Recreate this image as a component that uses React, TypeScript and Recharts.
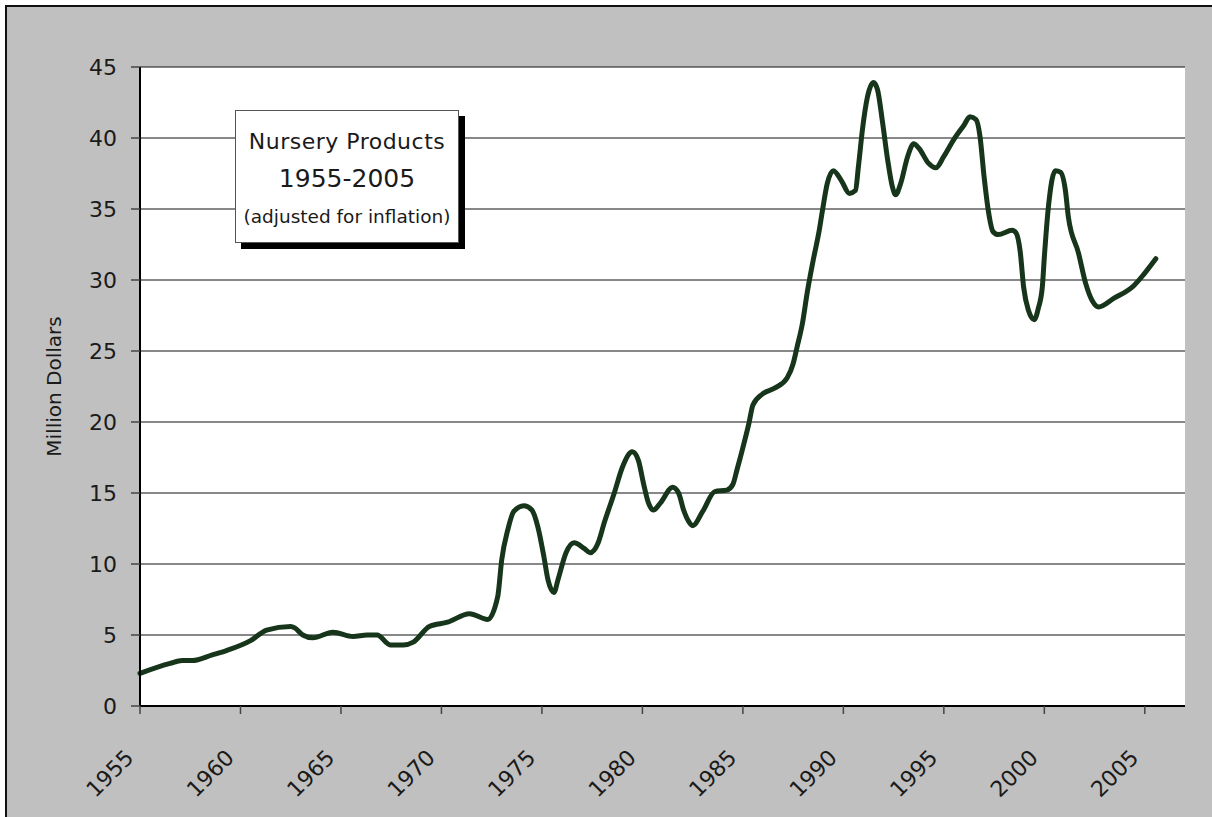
import { CartesianGrid, Line, LineChart, XAxis, YAxis } from 'recharts';

const years = [
  1955.0, 1956.5, 1957.1, 1957.6, 1958.6, 1959.3, 1960.5, 1961.3, 1962.5, 1962.7,
  1963.1, 1963.6, 1964.6, 1965.6, 1966.3, 1966.8, 1967.45, 1968.1, 1968.6, 1969.4,
  1970.3, 1971.4, 1972.3, 1972.8, 1973.0, 1973.3, 1973.6, 1974.1, 1974.5, 1974.8,
  1975.1, 1975.3, 1975.6, 1975.8, 1976.2, 1976.6, 1977.1, 1977.4, 1977.8, 1978.1,
  1978.6, 1979.0, 1979.5, 1979.8, 1980.05, 1980.3, 1980.55, 1980.9, 1981.5, 1981.8,
  1982.05, 1982.3, 1982.5, 1983.0, 1983.6, 1984.2, 1984.5, 1984.7, 1985.0, 1985.3,
  1985.5, 1986.0, 1986.6, 1987.2, 1987.5, 1987.7, 1987.97, 1988.2, 1988.5, 1988.8,
  1988.96, 1989.2, 1989.5, 1989.9, 1990.3, 1990.6, 1990.75, 1990.95, 1991.2, 1991.5,
  1991.7, 1991.95, 1992.2, 1992.45, 1992.6, 1992.85, 1993.2, 1993.5, 1993.75, 1994.25,
  1994.6, 1995.0, 1995.5, 1996.0, 1996.3, 1996.6, 1996.8, 1997.0, 1997.2, 1997.45,
  1997.7, 1998.4, 1998.6, 1998.8, 1998.97, 1999.2, 1999.5, 1999.7, 1999.9, 2000.0,
  2000.2, 2000.55, 2000.8, 2001.05, 2001.2, 2001.7, 2002.05, 2002.4, 2002.7, 2003.45,
  2004.45, 2004.95, 2005.55,
];

const values = [
  2.3, 3.0, 3.2, 3.2, 3.6, 3.9, 4.6, 5.35, 5.6, 5.5,
  5.0, 4.8, 5.2, 4.9, 5.0, 5.0, 4.3, 4.3, 4.5, 5.6,
  5.9, 6.5, 6.1, 7.7, 10.3, 12.4, 13.7, 14.1, 13.8, 12.6,
  10.5, 8.9, 8.0, 8.9, 10.8, 11.5, 11.1, 10.8, 11.5, 12.9,
  15.0, 16.8, 17.9, 17.3, 15.7, 14.3, 13.8, 14.3, 15.4, 15.0,
  13.8, 13.0, 12.7, 13.7, 15.1, 15.2, 15.6, 16.6, 18.2, 19.9,
  21.2, 22.0, 22.4, 23.1, 24.1, 25.3, 27.0, 29.1, 31.4, 33.5,
  34.9, 36.8, 37.7, 37.0, 36.1, 36.3, 38.0, 40.6, 42.9, 43.9,
  43.4, 41.1, 38.5, 36.5, 36.0, 36.8, 38.7, 39.6, 39.3, 38.2,
  37.9, 38.7, 39.9, 40.9, 41.5, 41.3, 40.1, 37.3, 35.0, 33.4,
  33.2, 33.5, 33.3, 32.0, 29.5, 27.9, 27.2, 28.0, 29.5, 31.6,
  35.1, 37.7, 37.6, 36.3, 34.4, 31.9, 29.8, 28.5, 28.1, 28.7,
  29.6, 30.4, 31.5,
];

const xTicks = [1955, 1960, 1965, 1970, 1975, 1980, 1985, 1990, 1995, 2000, 2005];
const yTicks = [0, 5, 10, 15, 20, 25, 30, 35, 40, 45];

const data = years.map((year, i) => ({ year, value: values[i] }));

const FONT = "'DejaVu Sans', sans-serif";
const INK = '#1a1a1a';

function YearTick(props: any) {
  const { x, y, payload } = props;
  return (
    <g transform={`translate(${x - 5},${y + 43})`}>
      <text x={0} y={0} textAnchor="end" transform="rotate(-45)" fill={INK} fontSize={22} fontFamily={FONT}>
        {payload.value}
      </text>
    </g>
  );
}

export default function App() {
  return (
    <div style={{ position: 'absolute', left: 0, top: 0, width: 1212, height: 817, overflow: 'hidden', background: '#fff' }}>
      <div
        style={{
          position: 'absolute',
          left: 5,
          top: 5,
          width: 1300,
          height: 900,
          border: '2px solid #111',
          background: '#c0c0c0',
        }}
      />
      <div style={{ position: 'absolute', left: 0, top: 0 }}>
        <LineChart width={1212} height={817} data={data} margin={{ top: 67, right: 27, bottom: 21, left: 20 }}>
          <CartesianGrid vertical={false} stroke="#111" fill="#ffffff" fillOpacity={1} />
          <XAxis
            dataKey="year"
            type="number"
            domain={[1955, 2007]}
            ticks={xTicks}
            height={90}
            tickSize={8}
            tick={<YearTick />}
            axisLine={{ stroke: '#000', strokeWidth: 2 }}
            tickLine={{ stroke: '#444', strokeWidth: 1.5 }}
            interval={0}
          />
          <XAxis
            xAxisId="top"
            orientation="top"
            type="number"
            domain={[1955, 2007]}
            height={0}
            tick={false}
            tickLine={false}
            axisLine={{ stroke: '#000', strokeWidth: 2 }}
          />
          <YAxis
            type="number"
            domain={[0, 45]}
            ticks={yTicks}
            width={120}
            tickSize={9}
            tickMargin={14}
            interval={0}
            axisLine={{ stroke: '#000', strokeWidth: 2 }}
            tickLine={{ stroke: '#444', strokeWidth: 1.5 }}
            tick={{ fill: INK, fontSize: 22, fontFamily: FONT }}
            label={{
              value: 'Million Dollars',
              angle: -90,
              position: 'insideLeft',
              offset: 34,
              style: { textAnchor: 'middle', fill: INK, fontSize: 20, fontFamily: FONT },
            }}
          />
          <YAxis
            yAxisId="right"
            orientation="right"
            type="number"
            domain={[0, 45]}
            width={0}
            tick={false}
            tickLine={false}
            axisLine={{ stroke: '#000', strokeWidth: 2 }}
          />
          <Line
            type="monotone"
            dataKey="value"
            stroke="#16351a"
            strokeWidth={5}
            strokeLinejoin="round"
            strokeLinecap="round"
            dot={false}
            activeDot={false}
            isAnimationActive={false}
          />
        </LineChart>
      </div>
      <div
        style={{
          position: 'absolute',
          left: 235,
          top: 110,
          width: 224,
          height: 133,
          boxSizing: 'border-box',
          border: '1px solid #555',
          background: '#fff',
          boxShadow: '6px 6px 0 #000',
          fontFamily: FONT,
          color: INK,
          textAlign: 'center',
        }}
      >
        <div style={{ position: 'absolute', left: 0, right: 0, top: 17, fontSize: 22, lineHeight: '28px', letterSpacing: 0.5, whiteSpace: 'nowrap' }}>
          Nursery Products
        </div>
        <div style={{ position: 'absolute', left: 0, right: 0, top: 53, fontSize: 25, lineHeight: '30px', whiteSpace: 'nowrap' }}>
          1955-2005
        </div>
        <div style={{ position: 'absolute', left: 0, right: 0, top: 94, fontSize: 18.5, lineHeight: '24px', whiteSpace: 'nowrap' }}>
          (adjusted for inflation)
        </div>
      </div>
    </div>
  );
}
